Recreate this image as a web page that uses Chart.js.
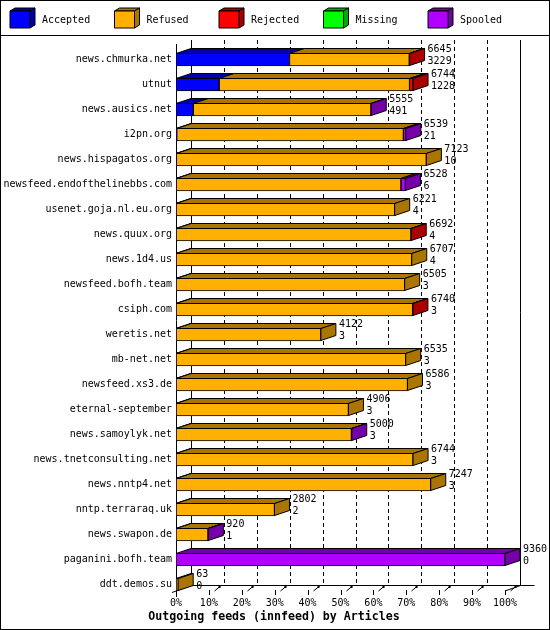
<!DOCTYPE html>
<html>
<head>
<meta charset="utf-8">
<script src="https://cdn.jsdelivr.net/npm/chart.js@4.4.1/dist/chart.umd.min.js"></script>
<style>
  html, body { margin: 0; padding: 0; background: #fff; }
</style>
</head>
<body>
<canvas id="chart" width="550" height="630"></canvas>
<script>
const hosts = [
    "news.chmurka.net", "utnut", "news.ausics.net", "i2pn.org", "news.hispagatos.org",
    "newsfeed.endofthelinebbs.com", "usenet.goja.nl.eu.org", "news.quux.org", "news.1d4.us",
    "newsfeed.bofh.team", "csiph.com", "weretis.net", "mb-net.net", "newsfeed.xs3.de",
    "eternal-september", "news.samoylyk.net", "news.tnetconsulting.net", "news.nntp4.net",
    "nntp.terraraq.uk", "news.swapon.de", "paganini.bofh.team", "ddt.demos.su",
];

// totals offered per peer (upper number next to each bar)
const offered = [6645, 6744, 5555, 6539, 7123, 6528, 6221, 6692, 6707, 6505, 6740,
    4122, 6535, 6586, 4906, 5000, 6744, 7247, 2802, 920, 9360, 63];

const accepted = [3229, 1228, 491, 21, 10, 6, 4, 4, 4, 3, 3, 3, 3, 3, 3, 3, 3, 3, 2, 1, 0, 0];
const refused = [3408, 5416, 5054, 6448, 7113, 6392, 6217, 6680, 6703, 6502, 6729,
    4119, 6532, 6583, 4903, 4987, 6741, 7244, 2800, 909, 0, 63];
const rejected = [8, 100, 0, 0, 0, 0, 0, 8, 0, 0, 8, 0, 0, 0, 0, 0, 0, 0, 0, 0, 0, 0];
const missing = [0, 0, 0, 0, 0, 0, 0, 0, 0, 0, 0, 0, 0, 0, 0, 0, 0, 0, 0, 0, 0, 0];
const spooled = [0, 0, 10, 70, 0, 130, 0, 0, 0, 0, 0, 0, 0, 0, 0, 10, 0, 0, 0, 10, 9360, 0];

const seriesNames = ["Accepted", "Refused", "Rejected", "Missing", "Spooled"];
const seriesData = [accepted, refused, rejected, missing, spooled];
const frontColors = ["#0000ff", "#ffb000", "#ff0000", "#00ff00", "#b000ff"];
const darkColors = ["#0000aa", "#aa7500", "#aa0000", "#00aa00", "#7500aa"];

const chartTitle = "Outgoing feeds (innfeed) by Articles";

const MONO = '"DejaVu Sans Mono", monospace';
const DX = 15, DY = 5;
const xMax = Math.max(...offered);

function poly(ctx, pts, fill) {
    ctx.beginPath();
    ctx.moveTo(pts[0][0], pts[0][1]);
    for (let i = 1; i < pts.length; i++) ctx.lineTo(pts[i][0], pts[i][1]);
    ctx.closePath();
    if (fill) {
        ctx.fillStyle = fill;
        ctx.fill();
    }
    ctx.stroke();
}

function line(ctx, x1, y1, x2, y2) {
    ctx.beginPath();
    ctx.moveTo(x1, y1);
    ctx.lineTo(x2, y2);
    ctx.stroke();
}

const depth3d = {
    id: "depth3d",
    beforeDraw(chart) {
        const {ctx, width, height} = chart;
        ctx.save();
        ctx.fillStyle = "#fff";
        ctx.fillRect(0, 0, width, height);
        ctx.restore();
    },
    beforeDatasetsDraw(chart) {
        const {ctx} = chart;
        const x = chart.scales.x;
        const wallTop = 40, floor = 585.5;
        const bl = Math.round(x.left + DX) + 0.5;
        const br = Math.round(x.right + DX) + 0.5;
        ctx.save();
        ctx.strokeStyle = "#000";
        ctx.lineWidth = 1;

        // dashed grid on the back wall
        ctx.setLineDash([4, 3]);
        x.ticks.forEach((t, i) => {
            if (i === 0 || i === x.ticks.length - 1) return;
            const px = Math.round(x.getPixelForValue(t.value) + DX) + 0.5;
            line(ctx, px, wallTop, px, floor);
        });
        ctx.setLineDash([]);

        // back wall + floor
        line(ctx, bl, wallTop, bl, floor);
        line(ctx, br, wallTop, br, floor);
        line(ctx, bl, floor, br + 14, floor);
        line(ctx, bl, floor, x.left - 4, floor + 7);
        line(ctx, br, floor, x.right, floor + 5.5);

        // front axis
        line(ctx, x.left + 0.5, 44, x.left + 0.5, 597);
        ctx.restore();
    },
    afterDatasetsDraw(chart) {
        const {ctx} = chart;
        const x = chart.scales.x;
        ctx.save();
        ctx.strokeStyle = "#000";
        ctx.lineWidth = 1;

        hosts.forEach((h, i) => {
            const segs = [];
            chart.data.datasets.forEach((ds, d) => {
                if (!ds.data[i]) return;
                const el = chart.getDatasetMeta(d).data[i];
                const p = el.getProps(["x", "base", "y", "height"], true);
                segs.push({x0: Math.min(p.base, p.x), x1: Math.max(p.base, p.x), y: p.y, h: p.height, d});
            });
            if (!segs.length) return;
            const yt = segs[0].y - segs[0].h / 2 + 0.5;
            const yb = segs[0].y + segs[0].h / 2 - 0.5;
            segs.forEach((s) => {
                poly(ctx, [[s.x0, yt], [s.x1, yt], [s.x1 + DX, yt - DY], [s.x0 + DX, yt - DY]], darkColors[s.d]);
            });
            const last = segs[segs.length - 1];
            const xe = last.x1;
            poly(ctx, [[xe, yt], [xe + DX, yt - DY], [xe + DX, yb - DY], [xe, yb]], darkColors[last.d]);

            ctx.fillStyle = "#000";
            ctx.font = "10px " + MONO;
            ctx.textAlign = "left";
            ctx.textBaseline = "middle";
            ctx.fillText(String(offered[i]), xe + DX + 3, segs[0].y - 10);
            ctx.fillText(String(accepted[i]), xe + DX + 3, segs[0].y + 1.5);
        });

        // tick marks in front of the floor
        x.ticks.forEach((t) => {
            const px = Math.round(x.getPixelForValue(t.value)) + 0.5;
            line(ctx, px, 590, px, 595);
            if (px > x.left + 1) {
                line(ctx, px + 5, 591, px + 11, 586);
                ctx.fillStyle = "#000";
                ctx.fillRect(px + 9, 586, 2, 2);
            }
        });
        ctx.restore();
    },
    afterDraw(chart) {
        const {ctx, width, height} = chart;
        ctx.save();
        ctx.strokeStyle = "#000";
        ctx.lineWidth = 1;

        // legend with little boxes
        seriesNames.forEach((name, k) => {
            const bx = 10 + k * 104.5;
            const by = 11, bw = 20, bh = 17;
            poly(ctx, [[bx, by], [bx + bw, by], [bx + bw + 5, by - 3], [bx + 5, by - 3]], darkColors[k]);
            poly(ctx, [[bx + bw, by], [bx + bw + 5, by - 3], [bx + bw + 5, by + bh - 3], [bx + bw, by + bh]], darkColors[k]);
            poly(ctx, [[bx, by], [bx + bw, by], [bx + bw, by + bh], [bx, by + bh]], frontColors[k]);
            ctx.fillStyle = "#000";
            ctx.font = "10px " + MONO;
            ctx.textAlign = "left";
            ctx.textBaseline = "middle";
            ctx.fillText(name, bx + 32, 20);
        });

        // title under the axis
        ctx.fillStyle = "#000";
        ctx.font = "bold 11.6px " + MONO;
        ctx.textAlign = "center";
        ctx.textBaseline = "middle";
        ctx.fillText(chartTitle, 274, 616.5);

        line(ctx, 0, 35.5, width, 35.5);
        ctx.strokeRect(0.5, 0.5, width - 1, height - 1);
        ctx.restore();
    },
};

new Chart(document.getElementById("chart"), {
    type: "bar",
    data: {
        labels: hosts,
        datasets: seriesNames.map((name, k) => ({
            label: name,
            data: seriesData[k],
            backgroundColor: frontColors[k],
            borderColor: "#000",
            borderWidth: 1,
            borderSkipped: false,
            barThickness: 13,
        })),
    },
    options: {
        indexAxis: "y",
        responsive: false,
        animation: false,
        layout: {
            padding: {top: 47, right: 45, bottom: 21, left: 0},
        },
        scales: {
            x: {
                stacked: true,
                min: 0,
                max: xMax,
                grid: {display: false, drawTicks: false},
                border: {display: false},
                ticks: {
                    stepSize: xMax / 10,
                    autoSkip: false,
                    maxRotation: 0,
                    padding: 0,
                    color: "#000",
                    font: {family: MONO, size: 10},
                    callback: (v) => Math.round(v / xMax * 100) + "%",
                },
            },
            y: {
                stacked: true,
                grid: {display: false, drawTicks: false},
                border: {display: false},
                afterFit: (scale) => {
                    scale.width = 176;
                },
                ticks: {
                    autoSkip: false,
                    padding: 4,
                    color: "#000",
                    font: {family: MONO, size: 10},
                },
            },
        },
        plugins: {
            legend: {display: false},
            tooltip: {enabled: false},
        },
    },
    plugins: [depth3d],
});
</script>
</body>
</html>
